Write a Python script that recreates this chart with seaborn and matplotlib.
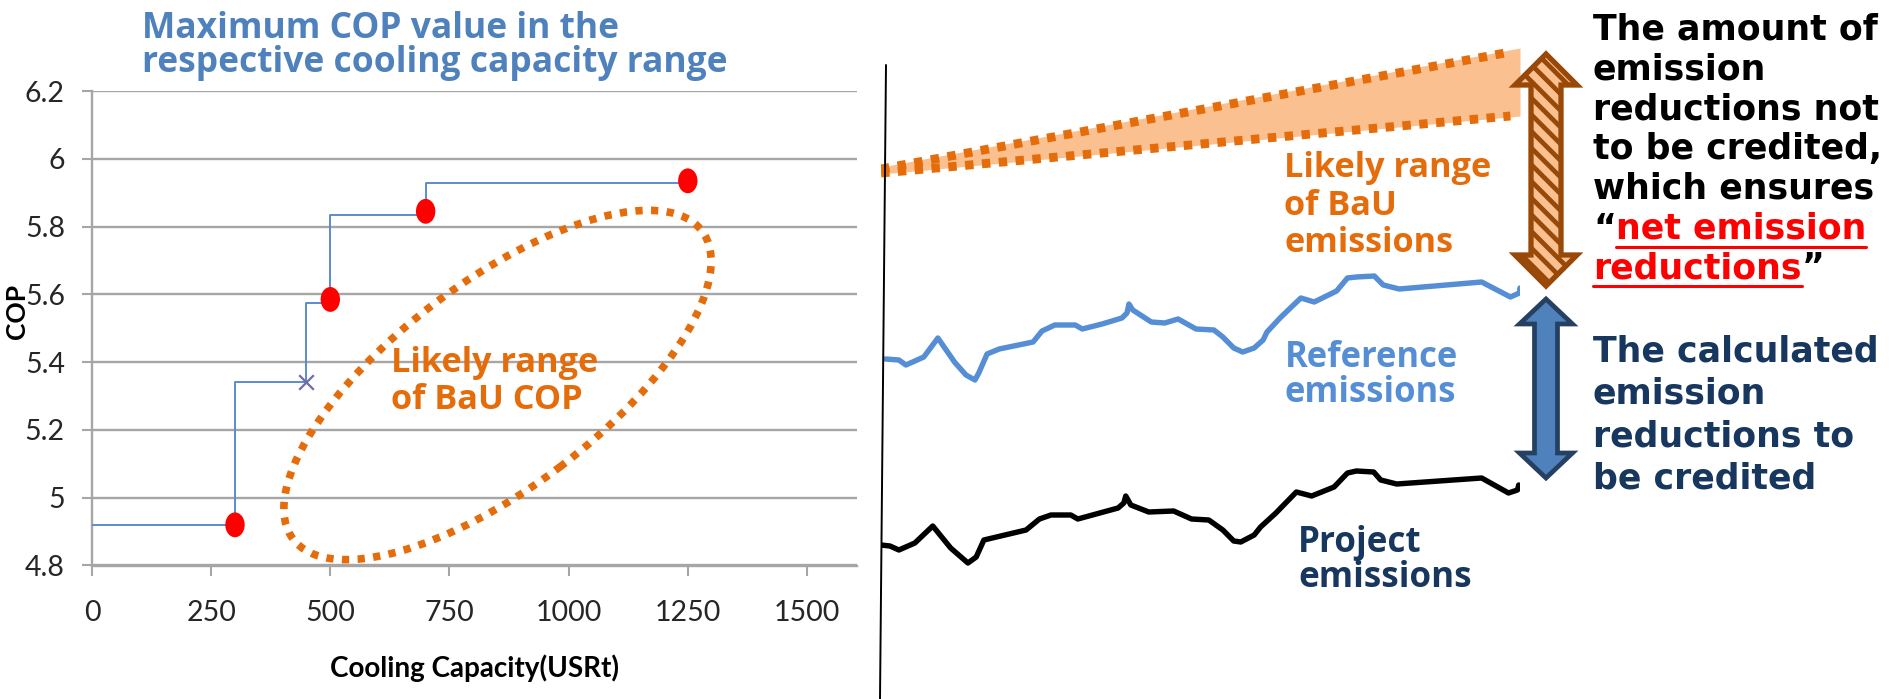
import numpy as np
import matplotlib
matplotlib.use("Agg")
import matplotlib.pyplot as plt
import seaborn as sns
from matplotlib.patches import Ellipse, Polygon
from matplotlib.lines import Line2D
from matplotlib.path import Path
from matplotlib.transforms import IdentityTransform, Affine2D

# ---- left chart data (max COP by cooling capacity) ----
capacity = [0, 300, 450, 500, 700, 1250]
max_cop = [4.92, 5.34, 5.575, 5.835, 5.93, 5.93]
point_capacity = [300, 500, 700, 1250]
point_cop = [4.92, 5.585, 5.845, 5.935]
cross_capacity = [450]
cross_cop = [5.34]
x_ticks = [0, 250, 500, 750, 1000, 1250, 1500]
y_ticks = [4.8, 5.0, 5.2, 5.4, 5.6, 5.8, 6.0, 6.2]
y_tick_labels = ["4.8", "5", "5.2", "5.4", "5.6", "5.8", "6", "6.2"]

# ---- right chart data (emissions over time, arbitrary units) ----
ref_period = [0.7, 2.8, 3.9, 6.7, 8.9, 11.5, 13.3, 14.7, 15.3, 16.6, 18.5, 23.8,
              25.2, 27.2, 30.4, 31.5, 34.6, 37.7, 38.5, 38.8, 39.4, 42.3, 44.4,
              46.5, 49.3, 52.1, 53.5, 55.2, 56.6, 58.4, 59.8, 60.4, 62.6, 63.9,
              65.7, 67.8, 71.3, 73.0, 74.4, 77.2, 78.6, 81.1, 94.0, 98.5, 99.9, 100.0]
reference = [34.0, 33.9, 33.4, 34.2, 36.1, 33.7, 32.4, 31.9, 32.6, 34.5, 35.0, 35.7,
             36.8, 37.4, 37.4, 37.0, 37.5, 38.1, 38.6, 39.5, 38.9, 37.7, 37.6,
             38.0, 37.0, 36.9, 36.2, 35.1, 34.7, 35.1, 35.9, 36.7, 38.2, 39.0,
             40.1, 39.7, 40.8, 42.1, 42.2, 42.3, 41.4, 41.0, 41.7, 40.2, 40.6, 41.1]
proj_period = [0.0, 1.4, 2.8, 5.3, 8.1, 10.9, 13.6, 14.9, 16.1, 22.7, 24.8, 26.6,
               29.7, 30.8, 37.1, 38.0, 38.3, 39.1, 41.9, 45.8, 48.6, 51.3, 53.5,
               55.2, 56.3, 58.4, 59.4, 61.8, 65.0, 67.4, 70.9, 73.0, 74.4, 77.1,
               78.2, 80.7, 94.0, 98.2, 99.6, 99.8]
project = [15.4, 15.3, 14.9, 15.6, 17.3, 15.1, 13.6, 14.2, 15.9, 16.9, 18.0, 18.4,
           18.4, 18.0, 19.1, 19.6, 20.3, 19.4, 18.7, 18.8, 18.0, 17.9, 16.9,
           15.8, 15.7, 16.4, 17.2, 18.6, 20.7, 20.3, 21.2, 22.6, 22.8, 22.7,
           21.9, 21.5, 22.1, 20.6, 20.9, 21.4]
bau_period = [0, 98.5]
bau_high = [53.0, 64.7]
bau_low = [52.6, 58.3]
bau_fill_period = [0, 100]
bau_fill_high = [53.2, 65.1]
bau_fill_low = [52.5, 58.3]

W, H = 1895, 699
ORANGE = "#E46C0A"
GRID = "#A6A6A6"
NAVY = "#17375E"
WIDE = "Open Sans"

sns.set_theme(style="white")
plt.rcParams["font.family"] = ["Lato", "DejaVu Sans"]
plt.rcParams["hatch.linewidth"] = 3.4

fig = plt.figure(figsize=(W / 100, H / 100), dpi=100)
renderer = fig.canvas.get_renderer()


def fx(px):
    return px / W


def fy(py):
    return 1 - py / H


def text_block(x, baselines, lines, fit_line, fit_width, **kw):
    # size the whole block so that one line gets the width it has in the picture
    probe = fig.text(0, 0, lines[fit_line], fontsize=20, va="baseline", **kw)
    size = 20 * fit_width / probe.get_window_extent(renderer).width
    probe.remove()
    return [fig.text(fx(x), fy(b), s, fontsize=size, va="baseline", **kw)
            for s, b in zip(lines, baselines)]


# ---------------- left chart ----------------
ax = fig.add_axes([fx(92), fy(565.5), (857 - 92) / W, (565.5 - 91) / H])
ax.set_xlim(0, 1605)
ax.set_ylim(4.8, 6.2)
ax.set_axisbelow(True)
ax.yaxis.grid(True, color=GRID, linewidth=1.7)
ax.xaxis.grid(False)
for side in ["top", "right"]:
    ax.spines[side].set_visible(False)
for side in ["left", "bottom"]:
    ax.spines[side].set_color(GRID)
    ax.spines[side].set_linewidth(1.7)
ax.set_xticks(x_ticks)
ax.set_yticks(y_ticks)
ax.set_yticklabels(y_tick_labels)
ax.tick_params(axis="both", direction="out", length=7.5, width=1.5, color=GRID,
               labelsize=20.5, labelcolor="#262626")
ax.tick_params(axis="x", pad=17, bottom=True)
ax.tick_params(axis="y", pad=12, left=True)

sns.lineplot(x=capacity, y=max_cop, drawstyle="steps-post", color="#5B8BD0",
             linewidth=1.4, ax=ax, zorder=3)
oval = Path.unit_circle().transformed(Affine2D().scale(0.78, 1.0))
sns.scatterplot(x=point_capacity, y=point_cop, marker=oval, s=320, color="#FF0000",
                edgecolor="none", ax=ax, zorder=4)
sns.scatterplot(x=cross_capacity, y=cross_cop, marker="x", s=110, color="#6F6FA3",
                linewidth=1.6, ax=ax, zorder=4)
ax.set_xlabel("")
ax.set_ylabel("")

# dotted oval around the likely BaU COP range
fig.add_artist(Ellipse((497.5, H - 385), 512, 206, angle=37, fill=False,
                       edgecolor=ORANGE, linewidth=5.5, linestyle=(0, (0.95, 1.1)),
                       transform=IdentityTransform()))

text_block(142, [38, 71.7], ["Maximum COP value in the", "respective cooling capacity range"],
           1, 586, color="#4F81BD", fontweight="bold", family=WIDE)
text_block(390.7, [371.7, 409.3], ["Likely range", "of BaU COP"], 0, 207,
           color=ORANGE, fontweight="bold", family=WIDE)
xl = text_block(474, [676.5], ["Cooling Capacity(USRt)"], 0, 290, color="black",
                fontweight="bold")
xl[0].set_ha("center")
fig.text(fx(17), fy(311), "COP", fontsize=19, fontweight="bold", color="black",
         rotation=90, ha="center", va="center")

# ---------------- right chart ----------------
ax2 = fig.add_axes([fx(881), 0, (1520 - 881) / W, 1])
ax2.set_xlim(0, 100)
ax2.set_ylim(0, H / 10)
ax2.axis("off")

ax2.fill_between(bau_fill_period, bau_fill_low, bau_fill_high, color="#FAC090",
                 linewidth=0, zorder=1)
for yy in (bau_high, bau_low):
    ax2.plot(bau_period, yy, color=ORANGE, linewidth=6.4,
             linestyle=(0, (0.95, 0.95)), zorder=2, solid_capstyle="butt")
sns.lineplot(x=ref_period, y=reference, color="#558ED5", linewidth=3.9, ax=ax2,
             zorder=3, sort=False)
sns.lineplot(x=proj_period, y=project, color="black", linewidth=3.9, ax=ax2,
             zorder=3, sort=False)
ax2.set_xlabel("")
ax2.set_ylabel("")

# slanted vertical axis line
fig.add_artist(Line2D([886, 880], [H - 65, 0], color="black", linewidth=1.4,
                      transform=IdentityTransform()))


def double_arrow(cx, top, bottom, head_w, head_len, shaft_w):
    pts = [(cx, top), (cx + head_w / 2, top + head_len), (cx + shaft_w / 2, top + head_len),
           (cx + shaft_w / 2, bottom - head_len), (cx + head_w / 2, bottom - head_len),
           (cx, bottom), (cx - head_w / 2, bottom - head_len),
           (cx - shaft_w / 2, bottom - head_len), (cx - shaft_w / 2, top + head_len),
           (cx - head_w / 2, top + head_len)]
    return [(x, H - y) for x, y in pts]


fig.add_artist(Polygon(double_arrow(1546, 54, 286, 62, 31, 30), closed=True,
                       facecolor="#FAC090", edgecolor="#984807", hatch="\\\\",
                       linewidth=3.8, transform=IdentityTransform()))
fig.add_artist(Polygon(double_arrow(1546, 299, 478, 53, 25, 23), closed=True,
                       facecolor="#4F81BD", edgecolor="#254061", linewidth=3.4,
                       transform=IdentityTransform()))

# labels in the right chart
text_block(1284, [176.7, 215, 251.7], ["Likely range", "of BaU", "emissions"], 0, 207,
           color=ORANGE, fontweight="bold", family=WIDE)
text_block(1285, [367.3, 401.7], ["Reference", "emissions"], 1, 171,
           color="#558ED5", fontweight="bold", family=WIDE)
text_block(1298, [552, 587], ["Project", "emissions"], 1, 173,
           color=NAVY, fontweight="bold", family=WIDE)

side_font = dict(fontsize=25, fontweight="bold", va="baseline", family="DejaVu Sans")
black_lines = ["The amount of", "emission", "reductions not", "to be credited,",
               "which ensures"]
for i, txt in enumerate(black_lines):
    fig.text(fx(1593), fy(39.5 + i * 39.8), txt, color="black", **side_font)

base6 = 39.5 + 5 * 39.8
base7 = 39.5 + 6 * 39.8
q1 = fig.text(fx(1593), fy(base6), "\u201c", color="black", **side_font)
e1 = q1.get_window_extent(renderer)
r1 = fig.text(e1.x1 / W, fy(base6), "net emission", color="#FF0000", **side_font)
er1 = r1.get_window_extent(renderer)
r2 = fig.text(fx(1593), fy(base7), "reductions", color="#FF0000", **side_font)
er2 = r2.get_window_extent(renderer)
fig.text(er2.x1 / W, fy(base7), "\u201d", color="black", **side_font)
for ext, base in [(er1, base6), (er2, base7)]:
    fig.add_artist(Line2D([ext.x0, ext.x1], [H - base - 8, H - base - 8],
                          color="#FF0000", linewidth=2.2, transform=IdentityTransform()))

navy_lines = ["The calculated", "emission", "reductions to", "be credited"]
for i, txt in enumerate(navy_lines):
    fig.text(fx(1593), fy(361.7 + i * 42.2), txt, color=NAVY, **side_font)

fig.savefig("out.png", dpi=100)
